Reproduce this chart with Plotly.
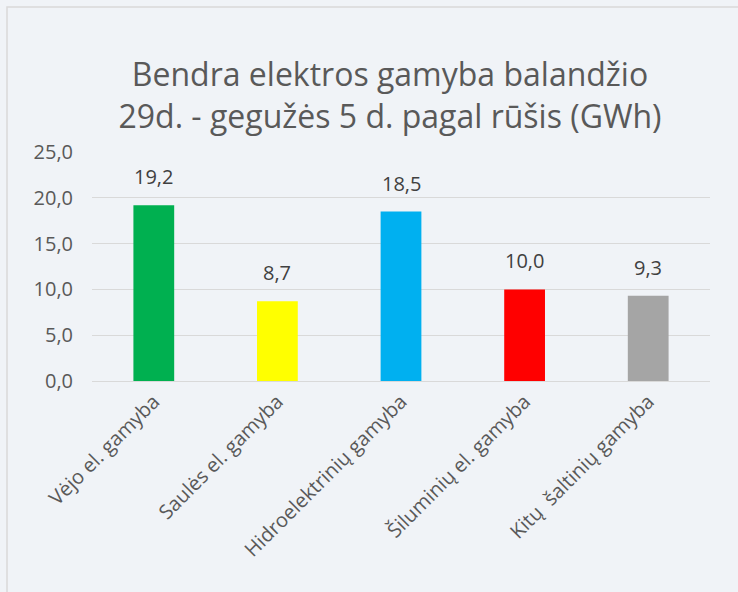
import plotly.graph_objects as go

categories = ["Vėjo el. gamyba", "Saulės el. gamyba", "Hidroelektrinių gamyba",
              "Šiluminių el. gamyba", "Kitų  šaltinių gamyba"]
values = [19.2, 8.7, 18.5, 10.0, 9.3]
colors = ["#00b050", "#ffff00", "#00b0f0", "#ff0000", "#a5a5a5"]
y_ticks = [0, 5, 10, 15, 20, 25]

W, H = 738, 592
L, R, T, B = 92, 28, 152, 211
pw = W - L - R
ph = H - T - B

fig = go.Figure()
fig.add_trace(go.Bar(
    x=categories, y=values,
    marker=dict(color=colors, line=dict(width=0)),
    width=0.33,
))

# data labels, sitting a bit above each bar like in Excel
for c, v in zip(categories, values):
    fig.add_annotation(x=c, y=v, text=f"{v:.1f}".replace(".", ","),
                       showarrow=False, yanchor="bottom", yshift=13,
                       font=dict(size=20, color="#404040"))

fig.update_layout(
    width=W, height=H,
    paper_bgcolor="#f0f3f7", plot_bgcolor="#f0f3f7",
    font=dict(family="Open Sans", color="#595959"),
    margin=dict(l=L, r=R, t=T, b=B, autoexpand=False),
    separators=",.",
    showlegend=False,
    title=dict(
        text="Bendra elektros gamyba balandžio<br>29d. - gegužės 5 d. pagal rūšis (GWh)",
        x=390 / W, xanchor="center", y=1 - 86 / H, yanchor="middle",
        font=dict(size=32, color="#595959"),
    ),
    xaxis=dict(tickangle=-45, tickfont=dict(size=20, color="#595959"),
               showgrid=False, linecolor="#d9d9d9", showline=True, ticks="",
               automargin=False),
    yaxis=dict(range=[0, 25], tickvals=y_ticks, tickformat=".1f",
               tickfont=dict(size=20, color="#595959"), ticklabelstandoff=18,
               gridcolor="#d9d9d9", gridwidth=1, zeroline=False,
               showline=False, ticks="", ticklen=0, automargin=False),
    shapes=[dict(type="rect", xref="paper", yref="paper",
                 x0=(7 - L) / pw, x1=(W + 20 - L) / pw,
                 y0=-(H + 20 - T - ph) / ph, y1=(H - 7 - B) / ph,
                 line=dict(color="#d9d9d9", width=1.5), layer="below")],
)

fig.write_html("out.html", config={"displayModeBar": False},
               post_script="document.body.style.margin='0';")
